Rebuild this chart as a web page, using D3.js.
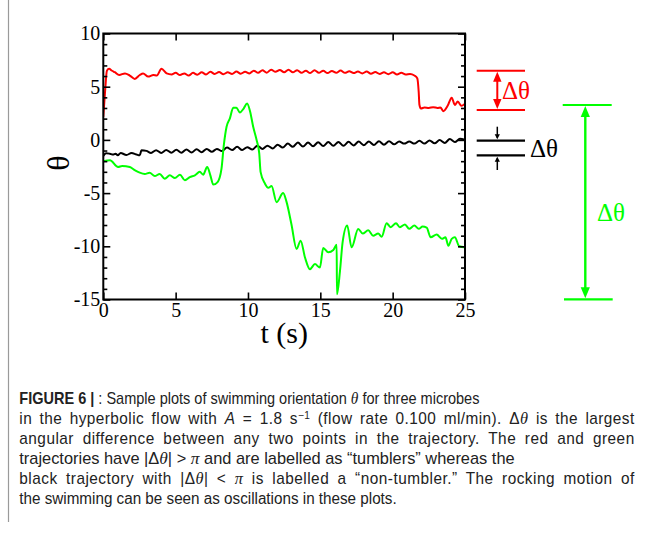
<!DOCTYPE html>
<html><head><meta charset="utf-8">
<script src="https://cdn.jsdelivr.net/npm/d3@7"></script>
<style>body{margin:0;background:#fff}svg{display:block}</style>
</head><body>
<svg id="c" width="651" height="537"></svg>
<script>
// ---------------- data ----------------
const xTicks = [0, 5, 10, 15, 20, 25];
const yTicks = [10, 5, 0, -5, -10, -15];
const yMinorTicks = [9,8,7,6,4,3,2,1,-1,-2,-3,-4,-6,-7,-8,-9,-11,-12,-13,-14];

const redSeries = [
[0,2.2],[0.12,4.5],[0.25,6.5],[0.4,6.68],[0.6,6.5],[0.8,6.36],[1.1,6.1],[1.5,6.25],[1.83,6.05],
[2.18,5.73],[2.52,6.1],[2.75,6.25],[3.1,5.95],[3.46,6.1],[3.7,6.05],[4.02,6.68],[4.38,6.25],[4.72,6.15],
[5.0,6.3],[5.3,6.1],[5.6,6.25],[5.9,6.05],[6.2,6.3],[6.5,6.12],[6.8,6.35],[7.1,6.15],[7.4,6.4],[7.7,6.2],
[8.0,6.38],[8.3,6.18],[8.6,6.35],[8.9,6.2],[9.2,6.42],[9.5,6.22],[9.8,6.4],[10.1,6.25],[10.4,6.5],[10.7,6.3],
[11.0,6.55],[11.3,6.32],[11.6,6.6],[11.9,6.4],[12.2,6.58],[12.5,6.35],[12.8,6.6],[13.1,6.35],[13.4,6.55],
[13.7,6.3],[14.0,6.5],[14.3,6.28],[14.6,6.55],[14.9,6.3],[15.2,6.5],[15.5,6.28],[15.8,6.48],[16.1,6.3],
[16.4,6.52],[16.7,6.3],[17.0,6.45],[17.3,6.28],[17.6,6.42],[17.9,6.25],[18.2,6.42],[18.5,6.22],[18.8,6.38],
[19.1,6.2],[19.4,6.35],[19.7,6.18],[20.0,6.35],[20.3,6.15],[20.6,6.3],[20.9,6.15],[21.2,6.2],[21.5,6.05],
[21.7,5.8],[21.8,4.5],[21.85,3.3],[21.95,2.95],[22.2,3.05],[22.5,3.0],[22.8,3.08],[23.1,3.0],[23.3,3.05],
[23.5,2.7],[23.8,3.2],[24.08,3.97],[24.3,3.28],[24.5,3.6],[24.75,3.2],[25.0,3.4]
];

const blackSeries = [
[0,-1.5],[0.2,-1.25],[0.45,-1.3],[0.68,-1.38],[0.85,-1.3],[1.0,-1.45],[1.2,-1.23],[1.6,-1.42],[1.95,-1.23],
[2.3,-1.38],[2.52,-1.45],[2.64,-0.97],[2.98,-1.03],[3.3,-1.22],[3.65,-0.97],[4.0,-1.22],[4.35,-0.95],
[4.7,-1.2],[5.05,-0.92],[5.4,-1.2],[5.75,-0.9],[6.1,-1.18],[6.45,-0.88],[6.8,-1.15],[7.15,-0.85],[7.5,-1.12],
[7.85,-0.85],[8.2,-1.05],[8.55,-0.72],[8.9,-0.95],[9.25,-0.65],[9.6,-0.95],[9.95,-0.68],[10.3,-0.9],
[10.65,-0.55],[11.0,-0.85],[11.35,-0.55],[11.7,-0.8],[12.05,-0.45],[12.4,-0.72],[12.75,-0.35],[13.1,-0.65],
[13.45,-0.25],[13.8,-0.62],[14.15,-0.25],[14.5,-0.6],[14.85,-0.22],[15.2,-0.58],[15.55,-0.2],[15.9,-0.56],
[16.25,-0.2],[16.6,-0.55],[16.95,-0.18],[17.3,-0.52],[17.65,-0.16],[18.0,-0.5],[18.35,-0.15],[18.7,-0.48],
[19.05,-0.12],[19.4,-0.45],[19.75,-0.12],[20.1,-0.42],[20.45,-0.15],[20.8,-0.35],[21.15,-0.15],[21.5,-0.35],
[21.85,-0.08],[22.2,-0.35],[22.55,-0.05],[22.9,-0.32],[23.25,-0.02],[23.6,-0.28],[23.95,0.08],[24.3,-0.2],
[24.65,0.1],[25.0,0.0]
];

const greenSeries = [
[0,-2.0],[0.46,-1.92],[1.02,-2.55],[1.3,-2.45],[1.83,-2.55],[2.2,-2.86],[2.52,-3.08],[2.87,-3.2],[3.2,-3.08],
[3.56,-3.4],[3.9,-3.2],[4.25,-3.65],[4.6,-3.33],[4.95,-3.58],[5.3,-3.27],[5.64,-3.8],[5.98,-3.5],[6.33,-3.33],
[6.67,-3.0],[6.9,-3.27],[7.18,-2.55],[7.4,-3.33],[7.6,-4.2],[7.9,-3.96],[8.17,-2.7],[8.33,-0.5],[8.52,1.23],
[8.75,2.02],[8.98,3.02],[9.2,3.02],[9.44,2.58],[9.7,2.95],[9.94,3.43],[10.15,2.65],[10.36,1.23],[10.6,-0.03],
[10.78,-1.29],[10.87,-3.0],[11.17,-4.1],[11.4,-4.5],[11.63,-4.34],[11.98,-5.85],[12.43,-5.0],[12.66,-5.8],
[13.0,-7.9],[13.36,-10.25],[13.64,-9.47],[13.94,-11.05],[14.28,-12.15],[14.63,-11.67],[14.97,-12.0],
[15.2,-10.17],[15.55,-10.57],[15.9,-10.35],[16.13,-9.85],[16.15,-14.5],[16.36,-12.3],[16.54,-9.63],
[16.86,-8.05],[17.16,-10.1],[17.62,-8.37],[17.93,-8.8],[18.31,-8.5],[18.65,-9.0],[19.0,-8.8],[19.24,-9.1],
[19.58,-7.83],[19.86,-8.2],[20.23,-7.83],[20.5,-8.2],[20.85,-7.95],[21.14,-8.35],[21.5,-8.05],[21.8,-8.35],
[22.07,-8.15],[22.35,-8.25],[22.63,-9.15],[23.04,-8.9],[23.4,-9.3],[23.65,-9.15],[23.85,-9.95],[24.08,-9.3],
[24.3,-9.15],[24.6,-10.0],[25.0,-10.1]
];

// Δθ ranges shown beside the plot (in θ units)
const redRange = [6.5, 2.81];
const blackRange = [-0.075, -1.45];
const greenRange = [3.28, -14.98];

const xLabel = "t (s)";
const yLabel = "θ";
const deltaLabel = "Δθ";

const captionLines = [
  [["FIGURE 6 |","b"],[" : Sample plots of swimming orientation ",""],["θ","i"],[" for three microbes",""]],
  [["in the hyperbolic flow with ",""],["A","ia"],[" = 1.8 s",""],["−1","sup"],[" (flow rate 0.100 ml/min). Δ",""],["θ","i"],[" is the largest",""]],
  [["angular difference between any two points in the trajectory. The red and green",""]],
  [["trajectories have |Δ",""],["θ","i"],["| > ",""],["π","i"],[" and are labelled as “tumblers” whereas the",""]],
  [["black trajectory with |Δ",""],["θ","i"],["| < ",""],["π","i"],[" is labelled a “non-tumbler.” The rocking motion of",""]],
  [["the swimming can be seen as oscillations in these plots.",""]]
];
const captionWidths = [460.7, 615.7, 615.7, 495.7, 615.7, 377.7];
const captionJustified = [false, true, true, false, true, false];

// ---------------- drawing ----------------
const W = 651, H = 537;
const svg = d3.select("#c");
svg.append("rect").attr("width", W).attr("height", H).attr("fill", "#fff");
svg.append("line").attr("x1", 8.5).attr("x2", 8.5).attr("y1", 0).attr("y2", 522)
  .attr("stroke", "#9a9a9a").attr("stroke-width", 1.2);

const plot = {l: 103.3, r: 465, t: 33.5, b: 299.5};
const x = d3.scaleLinear().domain([0, 25]).range([plot.l, plot.r]);
const y = d3.scaleLinear().domain([-15, 10]).range([plot.b, plot.t]);
const serif = "'Liberation Serif','Times New Roman',Times,serif";

svg.append("clipPath").attr("id", "clip").append("rect")
  .attr("x", plot.l).attr("y", plot.t).attr("width", plot.r - plot.l).attr("height", plot.b - plot.t);

const line = d3.line().x(d => x(d[0])).y(d => y(d[1])).curve(d3.curveMonotoneX);
const lines = svg.append("g").attr("clip-path", "url(#clip)");
[[blackSeries, "#000000"], [greenSeries, "#00ff00"], [redSeries, "#ff0000"]].forEach(([s, c]) => {
  lines.append("path").datum(s).attr("d", line).attr("fill", "none").attr("stroke", c)
    .attr("stroke-width", 2).attr("stroke-linejoin", "round").attr("stroke-linecap", "round");
});

function styleAxis(g) {
  g.select(".domain").remove();
  g.selectAll("line").attr("stroke", "#000").attr("stroke-width", 1.6);
  g.selectAll("text").attr("fill", "#000").attr("font-family", serif).attr("font-size", 20);
  g.attr("font-family", serif);
}
const fmt = d => String(d);
svg.append("g").attr("transform", `translate(${plot.l},0)`)
  .call(d3.axisLeft(y).tickValues(yTicks).tickSize(-7).tickSizeOuter(0).tickPadding(3).tickFormat(fmt)).call(styleAxis);
svg.append("g").attr("transform", `translate(${plot.l},0)`)
  .call(d3.axisLeft(y).tickValues(yMinorTicks).tickSize(-4).tickSizeOuter(0).tickFormat("")).call(styleAxis);
svg.append("g").attr("transform", `translate(${plot.r},0)`)
  .call(d3.axisRight(y).tickValues(yTicks).tickSize(-7).tickSizeOuter(0).tickFormat("")).call(styleAxis);
svg.append("g").attr("transform", `translate(${plot.r},0)`)
  .call(d3.axisRight(y).tickValues(yMinorTicks).tickSize(-4).tickSizeOuter(0).tickFormat("")).call(styleAxis);
svg.append("g").attr("transform", `translate(0,${plot.t})`)
  .call(d3.axisTop(x).tickValues(xTicks).tickSize(-7).tickSizeOuter(0).tickFormat("")).call(styleAxis);
svg.append("g").attr("transform", `translate(0,${plot.b})`)
  .call(d3.axisBottom(x).tickValues(xTicks).tickSize(-7).tickSizeOuter(0).tickPadding(3).tickFormat(fmt)).call(styleAxis);

svg.append("rect").attr("x", plot.l).attr("y", plot.t).attr("width", plot.r - plot.l).attr("height", plot.b - plot.t)
  .attr("fill", "none").attr("stroke", "#000").attr("stroke-width", 2);

// axis titles
svg.append("text").attr("x", (plot.l + plot.r) / 2).attr("y", 343).attr("text-anchor", "middle")
  .attr("font-family", serif).attr("font-size", 30).text(xLabel);
svg.append("text").attr("transform", "translate(58,163) rotate(-90)").attr("text-anchor", "middle")
  .attr("dominant-baseline", "central").attr("font-family", serif).attr("font-size", 32).text(yLabel);

// Δθ annotations
function head(g, cx, tipY, dir, len, hw, color) {
  g.append("path").attr("d", `M${cx},${tipY} L${cx - hw},${tipY - dir * len} L${cx + hw},${tipY - dir * len} Z`)
    .attr("fill", color);
}
function hline(g, x1, x2, yy, color) {
  g.append("line").attr("x1", x1).attr("x2", x2).attr("y1", yy).attr("y2", yy)
    .attr("stroke", color).attr("stroke-width", 2.2);
}
const ann = svg.append("g");
{
  const c = "#ff0000", y1 = y(redRange[0]), y2 = y(redRange[1]), cx = 497.3;
  hline(ann, 476.7, 525, y1, c); hline(ann, 476.7, 525, y2, c);
  ann.append("line").attr("x1", cx).attr("x2", cx).attr("y1", y1 + 5).attr("y2", y2 - 5).attr("stroke", c).attr("stroke-width", 2);
  head(ann, cx, y1 + 1, -1, 10, 4.2, c); head(ann, cx, y2 - 1, 1, 10, 4.2, c);
  ann.append("text").attr("x", 502).attr("y", 99).attr("font-family", serif).attr("font-size", 25).attr("fill", c).text(deltaLabel);
}
{
  const c = "#000000", y1 = y(blackRange[0]), y2 = y(blackRange[1]), cx = 497.3;
  hline(ann, 476.7, 525, y1, c); hline(ann, 476.7, 525, y2, c);
  ann.append("line").attr("x1", cx).attr("x2", cx).attr("y1", 126.7).attr("y2", y1 - 3).attr("stroke", c).attr("stroke-width", 1.5);
  head(ann, cx, y1 - 1.5, 1, 5, 2.6, c);
  ann.append("line").attr("x1", cx).attr("x2", cx).attr("y1", 170).attr("y2", y2 + 3).attr("stroke", c).attr("stroke-width", 1.5);
  head(ann, cx, y2 + 1.5, -1, 5, 2.6, c);
  ann.append("text").attr("x", 530).attr("y", 157).attr("font-family", serif).attr("font-size", 25).attr("fill", c).text(deltaLabel);
}
{
  const c = "#00ff00", y1 = y(greenRange[0]), y2 = y(greenRange[1]), cx = 585.3;
  hline(ann, 562.7, 611.7, y1, c); hline(ann, 564, 612.7, y2, c);
  ann.append("line").attr("x1", cx).attr("x2", cx).attr("y1", y1 + 5).attr("y2", y2 - 5).attr("stroke", c).attr("stroke-width", 2.4);
  head(ann, cx, y1 + 1, -1, 11, 4.6, c); head(ann, cx, y2 - 1, 1, 11, 4.6, c);
  ann.append("text").attr("x", 597).attr("y", 221).attr("font-family", serif).attr("font-size", 25).attr("fill", c).text(deltaLabel);
}

// caption
const capX = 19.3, capY0 = 404, capDy = 20;
const sans = "'Liberation Sans',Arial,sans-serif";
const capNodes = captionLines.map((segs, i) => {
  const t = svg.append("text").attr("font-family", sans).attr("font-size", 16).attr("fill", "#222");
  let shifted = false;
  segs.forEach(([txt, st]) => {
    const ts = t.append("tspan").text(txt);
    if (shifted) { ts.attr("dy", 5.5); shifted = false; }
    if (st === "b") ts.attr("font-weight", "bold");
    if (st === "i") ts.attr("font-style", "italic").attr("font-family", serif).attr("font-size", 17);
    if (st === "ia") ts.attr("font-style", "italic");
    if (st === "sup") { ts.attr("font-size", 10.5).attr("dy", -5.5); shifted = true; }
  });
  return t;
});
const natural = capNodes.map(t => t.node().getComputedTextLength());
const baseIdx = [0, 3, 5];
const s = d3.mean(baseIdx.map(i => captionWidths[i] / natural[i]));
capNodes.forEach((t, i) => {
  if (captionJustified[i]) {
    const txt = t.text();
    const nChars = txt.length;
    const nSpaces = (txt.match(/ /g) || []).length;
    const extra = captionWidths[i] / s - natural[i];
    if (extra > 0) {
      const ls = Math.min(0.5, extra * 0.45 / nChars);
      const ws = (extra - ls * nChars) / Math.max(1, nSpaces);
      t.attr("letter-spacing", ls).attr("word-spacing", ws);
    }
  }
  const w2 = t.node().getComputedTextLength();
  const sc = captionWidths[i] / w2;
  t.attr("transform", `translate(${capX},${capY0 + i * capDy}) scale(${sc},1)`);
});
</script>
</body></html>
